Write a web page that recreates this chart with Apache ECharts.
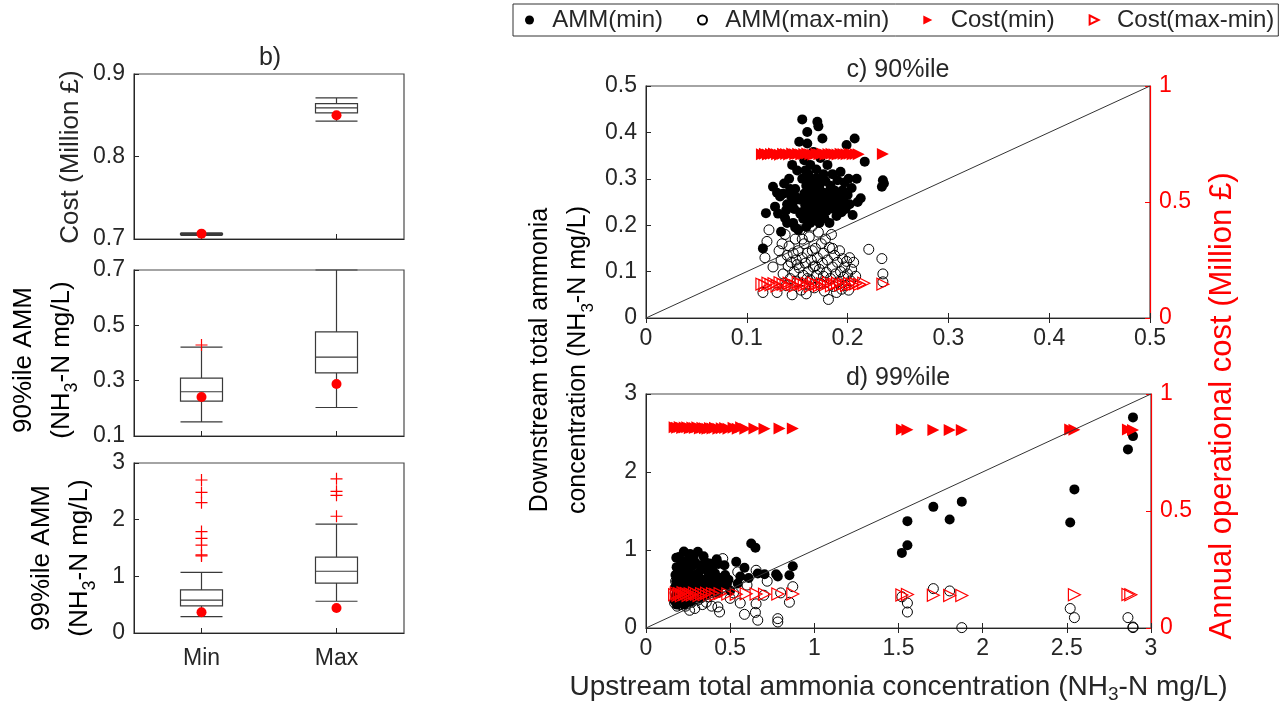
<!DOCTYPE html>
<html>
<head>
<meta charset="utf-8">
<script src="https://cdn.jsdelivr.net/npm/echarts@6.0.0/dist/echarts.min.js"></script>
<style>
html, body { margin: 0; padding: 0; background: #fff; }
#main { width: 1282px; height: 707px; }
</style>
</head>
<body>
<div id="main"></div>
<script>
// b) box plots: [min, q1, median, q3, max]
var groups = ['Min', 'Max'];
var costBox = [[0.7045, 0.7055, 0.706, 0.7065, 0.7075], [0.843, 0.853, 0.859, 0.864, 0.871]];
var costDot = [[0, 0.7065], [1, 0.850]];
var amm90Box = [[0.151, 0.226, 0.260, 0.309, 0.421], [0.203, 0.328, 0.385, 0.476, 0.700]];
var amm90Out = [[0, 0.429]];
var amm90Dot = [[0, 0.241], [1, 0.288]];
var amm99Box = [[0.29, 0.48, 0.58, 0.76, 1.07], [0.56, 0.88, 1.09, 1.34, 1.92]];
var amm99Out = [[0, 2.70], [0, 2.48], [0, 2.30], [0, 1.79], [0, 1.67], [0, 1.55], [0, 1.38], [0, 1.36],
    [1, 2.72], [1, 2.50], [1, 2.43], [1, 2.06]];
var amm99Dot = [[0, 0.365], [1, 0.44]];

// c) 90%ile : [upstream, downstream] and [upstream, cost]
var ammMinC = [
    [0.116,0.150],[0.119,0.226],[0.126,0.283],[0.130,0.270],[0.134,0.186],[0.138,0.215],[0.140,0.245],[0.142,0.300],[0.144,0.262],[0.146,0.205],
    [0.147,0.235],[0.148,0.278],[0.150,0.318],[0.151,0.190],[0.152,0.380],[0.153,0.255],[0.154,0.228],[0.155,0.428],[0.155,0.300],[0.156,0.214],
    [0.157,0.268],[0.157,0.340],[0.158,0.243],[0.159,0.196],[0.159,0.285],[0.160,0.401],[0.160,0.376],[0.160,0.226],[0.161,0.252],[0.161,0.310],
    [0.162,0.238],[0.162,0.275],[0.163,0.205],[0.163,0.330],[0.164,0.262],[0.164,0.222],[0.165,0.290],[0.165,0.245],[0.166,0.358],[0.166,0.212],
    [0.167,0.270],[0.167,0.232],[0.168,0.300],[0.168,0.250],[0.169,0.218],[0.169,0.320],[0.170,0.423],[0.170,0.262],[0.171,0.413],[0.171,0.240],
    [0.172,0.285],[0.172,0.205],[0.173,0.255],[0.173,0.345],[0.174,0.228],[0.175,0.387],[0.175,0.270],[0.176,0.310],[0.176,0.242],[0.177,0.215],
    [0.178,0.295],[0.178,0.258],[0.179,0.230],[0.180,0.330],[0.180,0.270],[0.181,0.245],[0.182,0.205],[0.183,0.285],[0.184,0.260],[0.185,0.310],
    [0.186,0.235],[0.187,0.275],[0.188,0.250],[0.189,0.220],[0.190,0.297],[0.191,0.262],[0.192,0.240],[0.193,0.315],[0.194,0.228],[0.195,0.275],
    [0.196,0.252],[0.197,0.292],[0.198,0.235],[0.199,0.373],[0.200,0.265],[0.201,0.300],[0.202,0.245],[0.204,0.280],[0.205,0.222],[0.207,0.387],
    [0.209,0.300],[0.210,0.250],[0.213,0.258],[0.217,0.337],[0.234,0.283],[0.235,0.297],[0.236,0.290],[0.131,0.225],[0.137,0.290],[0.145,0.330],
    [0.149,0.260],[0.153,0.225],[0.158,0.318],[0.162,0.295],[0.166,0.280],[0.170,0.300],[0.174,0.272],[0.179,0.252],[0.183,0.238],[0.188,0.265],
    [0.128,0.240],[0.133,0.262],[0.139,0.232],[0.143,0.278],[0.146,0.250],[0.140,0.205],[0.136,0.268],[0.148,0.195]
];
var ammRangeC = [
    [0.116,0.055],[0.118,0.130],[0.120,0.165],[0.122,0.190],[0.126,0.110],[0.130,0.055],[0.132,0.145],[0.134,0.125],[0.135,0.160],[0.136,0.095],
    [0.138,0.180],[0.139,0.070],[0.140,0.135],[0.141,0.112],[0.142,0.155],[0.143,0.085],[0.144,0.120],[0.145,0.050],[0.146,0.140],[0.147,0.100],
    [0.148,0.170],[0.149,0.125],[0.150,0.078],[0.151,0.145],[0.152,0.108],[0.153,0.190],[0.154,0.060],[0.155,0.130],[0.156,0.092],[0.157,0.160],
    [0.158,0.118],[0.159,0.052],[0.160,0.140],[0.161,0.100],[0.162,0.175],[0.163,0.082],[0.164,0.125],[0.165,0.198],[0.166,0.110],[0.167,0.065],
    [0.168,0.150],[0.169,0.092],[0.170,0.130],[0.171,0.185],[0.172,0.105],[0.173,0.075],[0.174,0.160],[0.175,0.118],[0.176,0.140],[0.177,0.058],
    [0.178,0.170],[0.179,0.098],[0.180,0.125],[0.181,0.040],[0.182,0.152],[0.183,0.085],[0.184,0.180],[0.185,0.110],[0.186,0.068],[0.187,0.135],
    [0.188,0.095],[0.189,0.055],[0.190,0.120],[0.191,0.078],[0.192,0.145],[0.193,0.100],[0.194,0.062],[0.195,0.128],[0.196,0.088],[0.197,0.110],
    [0.198,0.070],[0.199,0.122],[0.200,0.095],[0.201,0.060],[0.202,0.130],[0.203,0.080],[0.204,0.105],[0.206,0.120],[0.208,0.090],[0.221,0.148],
    [0.234,0.128],[0.235,0.095],[0.235,0.078],[0.150,0.115],[0.160,0.085],[0.168,0.112],[0.176,0.090],[0.185,0.150],[0.165,0.145],[0.155,0.170]
];
var costMinC = [
    [0.115,0.706],[0.118,0.708],[0.121,0.705],[0.124,0.707],[0.127,0.709],[0.130,0.706],[0.133,0.704],[0.136,0.708],[0.139,0.707],[0.142,0.705],
    [0.145,0.709],[0.148,0.706],[0.151,0.708],[0.154,0.705],[0.157,0.707],[0.160,0.709],[0.163,0.706],[0.166,0.704],[0.169,0.708],[0.172,0.706],
    [0.175,0.709],[0.178,0.705],[0.181,0.707],[0.184,0.708],[0.187,0.706],[0.190,0.705],[0.193,0.708],[0.196,0.707],[0.199,0.706],[0.202,0.708],
    [0.205,0.706],[0.208,0.707],[0.211,0.706],[0.235,0.707]
];
var costRangeC = [
    [0.115,0.146],[0.118,0.140],[0.121,0.150],[0.124,0.143],[0.127,0.148],[0.130,0.138],[0.133,0.152],[0.136,0.145],[0.139,0.141],[0.142,0.150],
    [0.145,0.144],[0.148,0.139],[0.151,0.153],[0.154,0.146],[0.157,0.142],[0.160,0.149],[0.163,0.137],[0.166,0.151],[0.169,0.145],[0.172,0.140],
    [0.175,0.148],[0.178,0.143],[0.181,0.152],[0.184,0.139],[0.187,0.146],[0.190,0.150],[0.193,0.142],[0.196,0.147],[0.199,0.140],[0.202,0.149],
    [0.205,0.144],[0.208,0.148],[0.212,0.145],[0.216,0.150],[0.235,0.146]
];

// d) 99%ile
var ammMinD = [
    [0.170,0.350],[0.172,0.520],[0.175,0.680],[0.178,0.420],[0.180,0.600],[0.182,0.780],[0.184,0.300],[0.186,0.470],[0.188,0.650],[0.190,0.550],
    [0.192,0.380],[0.194,0.720],[0.196,0.910],[0.198,0.450],[0.200,0.330],[0.203,0.620],[0.205,0.500],[0.208,0.820],[0.210,0.400],[0.213,0.580],
    [0.215,0.700],[0.218,0.350],[0.220,0.780],[0.223,0.480],[0.226,0.600],[0.229,0.300],[0.232,0.860],[0.235,0.540],[0.238,0.420],[0.241,0.660],
    [0.245,0.380],[0.248,0.740],[0.252,0.500],[0.256,0.880],[0.260,0.620],[0.264,0.450],[0.268,0.340],[0.272,0.560],[0.276,0.800],[0.280,0.480],
    [0.285,0.680],[0.290,0.400],[0.295,0.600],[0.300,0.520],[0.308,0.976],[0.312,0.440],[0.318,0.640],[0.325,0.380],[0.332,0.560],[0.340,0.480],
    [0.350,0.620],[0.358,0.420],[0.366,0.540],[0.378,0.826],[0.390,0.470],[0.400,0.600],[0.415,0.520],[0.430,0.450],[0.445,0.640],[0.466,0.805],
    [0.480,0.560],[0.500,0.480],[0.536,0.848],[0.545,0.570],[0.560,0.660],[0.585,0.772],[0.610,0.640],[0.625,1.083],[0.650,1.030],[0.664,0.698],
    [0.704,0.690],[0.773,0.690],[0.783,0.660],[0.852,0.676],[0.872,0.792],[0.180,0.900],[0.200,0.750],[0.220,0.650],[0.240,0.850],[0.190,0.620],
    [0.310,0.700],[0.330,0.780],[0.350,0.850],[0.370,0.660],[0.390,0.750],[0.410,0.700],[0.430,0.820],[0.450,0.550],[0.470,0.680],[0.490,0.620],
    [0.262,0.950],[0.282,0.900],[0.342,0.920],[0.420,0.880],[0.225,0.980],[0.300,0.820],[0.360,0.740],[0.400,0.800],[0.255,0.720],[0.325,0.600],
    [1.520,0.963],[1.553,1.060],[1.553,1.370],[1.707,1.553],[1.804,1.390],[1.876,1.620],[2.520,1.353],[2.545,1.777],[2.863,2.290],[2.893,2.460],[2.893,2.700]
];
var ammRangeD = [
    [0.170,0.320],[0.173,0.450],[0.176,0.600],[0.179,0.380],[0.182,0.520],[0.185,0.280],[0.188,0.700],[0.191,0.420],[0.194,0.350],[0.197,0.560],
    [0.200,0.480],[0.204,0.300],[0.208,0.640],[0.212,0.400],[0.216,0.760],[0.220,0.340],[0.225,0.520],[0.230,0.440],[0.235,0.280],[0.240,0.600],
    [0.246,0.380],[0.252,0.480],[0.259,0.227],[0.265,0.560],[0.272,0.330],[0.280,0.420],[0.290,0.250],[0.300,0.520],[0.310,0.360],[0.322,0.620],
    [0.335,0.300],[0.348,0.460],[0.358,0.700],[0.358,0.330],[0.372,0.400],[0.390,0.280],[0.410,0.520],[0.427,0.270],[0.437,0.205],[0.456,0.890],
    [0.470,0.600],[0.500,0.380],[0.520,0.450],[0.545,0.720],[0.560,0.320],[0.585,0.175],[0.600,0.550],[0.650,0.200],[0.654,0.740],[0.654,0.310],
    [0.664,0.100],[0.700,0.420],[0.720,0.600],[0.783,0.120],[0.783,0.077],[0.800,0.450],[0.852,0.330],[0.872,0.530],[0.280,0.750],[0.320,0.820],
    [1.520,0.400],[1.553,0.320],[1.553,0.205],[1.707,0.505],[1.804,0.475],[1.876,0.005],[2.520,0.250],[2.545,0.133],[2.863,0.133],[2.893,0.013],[2.893,0.005]
];
var costMinD = [
    [0.170,0.858],[0.185,0.856],[0.200,0.859],[0.215,0.855],[0.230,0.857],[0.245,0.858],[0.260,0.854],[0.275,0.857],[0.290,0.855],[0.305,0.858],
    [0.320,0.853],[0.335,0.856],[0.350,0.854],[0.365,0.852],[0.380,0.855],[0.395,0.853],[0.410,0.856],[0.430,0.851],[0.450,0.854],[0.470,0.855],
    [0.490,0.852],[0.520,0.856],[0.545,0.852],[0.565,0.858],[0.590,0.851],[0.644,0.853],[0.704,0.852],[0.793,0.853],[0.872,0.853],
    [1.520,0.848],[1.553,0.847],[1.707,0.846],[1.804,0.846],[1.876,0.846],[2.520,0.848],[2.545,0.847],[2.863,0.848],[2.893,0.846]
];
var costRangeD = [
    [0.170,0.142],[0.180,0.150],[0.190,0.140],[0.200,0.147],[0.210,0.138],[0.220,0.151],[0.230,0.143],[0.240,0.148],[0.250,0.139],[0.262,0.146],
    [0.275,0.141],[0.288,0.150],[0.300,0.144],[0.315,0.139],[0.330,0.147],[0.345,0.142],[0.360,0.149],[0.378,0.140],[0.395,0.146],[0.415,0.143],
    [0.440,0.147],[0.486,0.145],[0.536,0.144],[0.595,0.146],[0.654,0.145],[0.704,0.144],[0.783,0.145],[0.872,0.145],
    [1.520,0.141],[1.553,0.143],[1.707,0.140],[1.804,0.139],[1.876,0.139],[2.545,0.142],[2.863,0.143],[2.880,0.142]
];

// 1:1 reference lines
var diagC = [[0, 0], [0.5, 0.5]];
var diagD = [[0, 0], [3, 3]];

var FONT = '"Liberation Sans", Arial, Helvetica, sans-serif';
var INK = '#262626';
var RED = '#ff0000';
var plusPath = 'path://M0,5L10,5M5,0L5,10';
var rightTri = 'path://M0,0L10,5L0,10Z';

function richSub(size, color, lh) {
    var sub = Math.round(size * 0.68);
    return {
        t: {fontSize: size, fontFamily: FONT, color: color, lineHeight: lh},
        s: {fontSize: sub, fontFamily: FONT, color: color, lineHeight: sub, verticalAlign: 'bottom'}
    };
}

function axis(grid, extra) {
    var a = {
        gridIndex: grid,
        axisLine: {show: true, onZero: false, lineStyle: {color: INK, width: 1}},
        axisTick: {show: true, inside: true, length: 5, lineStyle: {color: INK}},
        axisLabel: {color: INK, fontSize: 23, fontFamily: FONT, margin: 9},
        splitLine: {show: false}
    };
    for (var k in extra) a[k] = extra[k];
    return a;
}

function redAxis(a) {
    a.axisLine = {show: true, onZero: false, lineStyle: {color: RED, width: 1.2}};
    a.axisTick = {show: true, inside: true, length: 5, lineStyle: {color: RED}};
    a.axisLabel = {color: RED, fontSize: 23, fontFamily: FONT, margin: 9};
    return a;
}

var gridBase = {show: true, borderColor: '#4a4a4a', borderWidth: 1.2, backgroundColor: '#fff', outerBoundsMode: 'none'};
function grid(l, t, w, h) {
    var g = {left: l, top: t, width: w, height: h};
    for (var k in gridBase) g[k] = gridBase[k];
    return g;
}

var chart = echarts.init(document.getElementById('main'));

var boxStyle = {color: '#fff', borderColor: '#3a3a3a', borderWidth: 1.2};
var solidBlack = {color: '#000', opacity: 1};
var solidRed = {color: RED, opacity: 1};
var openBlack = {color: 'rgba(0,0,0,0)', borderColor: '#000', borderWidth: 1, opacity: 1};
var openRed = {color: 'rgba(255,0,0,0)', borderColor: RED, borderWidth: 1.2, opacity: 1};

var option = {
    backgroundColor: '#fff',
    animation: false,
    textStyle: {fontFamily: FONT},
    legend: {
        data: [
            {name: 'AMM(min)', icon: 'circle'},
            {name: 'AMM(max-min)', icon: 'circle'},
            {name: 'Cost(min)', icon: rightTri},
            {name: 'Cost(max-min)', icon: rightTri}
        ],
        formatter: '  {name}',
        left: 513, top: 4, width: 780,
        orient: 'horizontal',
        borderColor: '#333', borderWidth: 1,
        padding: [4, 4, 4, 12],
        itemGap: 34, itemWidth: 9, itemHeight: 9,
        selectedMode: false,
        textStyle: {fontSize: 24, fontFamily: FONT, color: INK}
    },
    grid: [
        grid(134, 74, 270, 165),
        grid(134, 270, 270, 166),
        grid(134, 463, 270, 170),
        grid(646, 86, 504, 232),
        grid(646, 394, 505, 234)
    ],
    xAxis: [
        axis(0, {type: 'category', data: groups, axisLabel: {show: false}, axisTick: {show: true, inside: true, alignWithLabel: true, length: 5, lineStyle: {color: INK}}}),
        axis(1, {type: 'category', data: groups, axisLabel: {show: false}, axisTick: {show: true, inside: true, alignWithLabel: true, length: 5, lineStyle: {color: INK}}}),
        axis(2, {type: 'category', data: groups, axisLabel: {color: INK, fontSize: 23, fontFamily: FONT, margin: 14}, axisTick: {show: true, inside: true, alignWithLabel: true, length: 5, lineStyle: {color: INK}}}),
        axis(3, {type: 'value', min: 0, max: 0.5, interval: 0.1}),
        axis(4, {type: 'value', min: 0, max: 3, interval: 0.5,
            name: '{t|Upstream total ammonia concentration (NH}{s|3}{t|-N mg/L)}',
            nameLocation: 'middle', nameGap: 42,
            nameTextStyle: {rich: richSub(28, INK, 34)}}),
        axis(3, {type: 'value', position: 'top', min: 0, max: 0.5, interval: 0.1, axisLabel: {show: false}, axisLine: {show: false}}),
        axis(4, {type: 'value', position: 'top', min: 0, max: 3, interval: 0.5, axisLabel: {show: false}, axisLine: {show: false}})
    ],
    yAxis: [
        axis(0, {type: 'value', min: 0.7, max: 0.9, interval: 0.1}),
        axis(1, {type: 'value', min: 0.1, max: 0.7, interval: 0.2}),
        axis(2, {type: 'value', min: 0, max: 3, interval: 1}),
        axis(3, {type: 'value', min: 0, max: 0.5, interval: 0.1}),
        redAxis(axis(3, {type: 'value', position: 'right', min: 0, max: 1, interval: 0.5})),
        axis(4, {type: 'value', min: 0, max: 3, interval: 1}),
        redAxis(axis(4, {type: 'value', position: 'right', min: 0, max: 1, interval: 0.5}))
    ],
    graphic: [
        {type: 'text', x: 270, y: 58, style: {text: 'b)', fontSize: 25, fontFamily: FONT, fill: INK, align: 'center', verticalAlign: 'middle'}},
        {type: 'text', x: 898, y: 70, style: {text: 'c) 90%ile', fontSize: 25, fontFamily: FONT, fill: INK, align: 'center', verticalAlign: 'middle'}},
        {type: 'text', x: 898, y: 378, style: {text: 'd) 99%ile', fontSize: 25, fontFamily: FONT, fill: INK, align: 'center', verticalAlign: 'middle'}},
        {type: 'text', x: 71, y: 157, rotation: Math.PI / 2,
            style: {text: 'Cost (Million £)', fontSize: 26, fontFamily: FONT, fill: INK, align: 'center', verticalAlign: 'middle'}},
        {type: 'text', x: 43, y: 360, rotation: Math.PI / 2,
            style: {text: '{t|90%ile AMM}\n{t|(NH}{s|3}{t|-N mg/L)}', rich: richSub(26, INK, 38), align: 'center', verticalAlign: 'middle'}},
        {type: 'text', x: 61, y: 558, rotation: Math.PI / 2,
            style: {text: '{t|99%ile AMM}\n{t|(NH}{s|3}{t|-N mg/L)}', rich: richSub(26, INK, 38), align: 'center', verticalAlign: 'middle'}},
        {type: 'text', x: 559, y: 360, rotation: Math.PI / 2,
            style: {text: '{t|Downstream total ammonia}\n{t|concentration (NH}{s|3}{t|-N mg/L)}', rich: richSub(25, INK, 38), align: 'center', verticalAlign: 'middle'}},
        {type: 'text', x: 1222, y: 406, rotation: Math.PI / 2,
            style: {text: 'Annual operational cost (Million £)', fontSize: 31, fontFamily: FONT, fill: RED, align: 'center', verticalAlign: 'middle'}}
    ],
    series: [
        // b) box plots
        {type: 'boxplot', xAxisIndex: 0, yAxisIndex: 0, data: costBox, boxWidth: [42, 42], itemStyle: boxStyle, silent: true},
        {type: 'scatter', xAxisIndex: 0, yAxisIndex: 0, data: costDot, symbol: 'circle', symbolSize: 10, itemStyle: solidRed, silent: true},
        {type: 'boxplot', xAxisIndex: 1, yAxisIndex: 1, data: amm90Box, boxWidth: [42, 42], itemStyle: boxStyle, silent: true},
        {type: 'scatter', xAxisIndex: 1, yAxisIndex: 1, data: amm90Out, symbol: plusPath, symbolSize: 12, itemStyle: openRed, silent: true},
        {type: 'scatter', xAxisIndex: 1, yAxisIndex: 1, data: amm90Dot, symbol: 'circle', symbolSize: 10, itemStyle: solidRed, silent: true},
        {type: 'boxplot', xAxisIndex: 2, yAxisIndex: 2, data: amm99Box, boxWidth: [42, 42], itemStyle: boxStyle, silent: true},
        {type: 'scatter', xAxisIndex: 2, yAxisIndex: 2, data: amm99Out, symbol: plusPath, symbolSize: 12, itemStyle: openRed, silent: true},
        {type: 'scatter', xAxisIndex: 2, yAxisIndex: 2, data: amm99Dot, symbol: 'circle', symbolSize: 10, itemStyle: solidRed, silent: true},

        // c) 90%ile
        {type: 'line', xAxisIndex: 3, yAxisIndex: 3, data: diagC, symbol: 'none', lineStyle: {color: '#333', width: 1}, silent: true},
        {name: 'AMM(min)', type: 'scatter', xAxisIndex: 3, yAxisIndex: 3, data: ammMinC, symbol: 'circle', symbolSize: 10, itemStyle: solidBlack, silent: true},
        {name: 'AMM(max-min)', type: 'scatter', xAxisIndex: 3, yAxisIndex: 3, data: ammRangeC, symbol: 'circle', symbolSize: 10, itemStyle: openBlack, silent: true},
        {name: 'Cost(min)', type: 'scatter', xAxisIndex: 3, yAxisIndex: 4, data: costMinC, symbol: 'triangle', symbolRotate: -90, symbolSize: 12, itemStyle: solidRed, silent: true},
        {name: 'Cost(max-min)', type: 'scatter', xAxisIndex: 3, yAxisIndex: 4, data: costRangeC, symbol: 'triangle', symbolRotate: -90, symbolSize: 12, itemStyle: openRed, silent: true},

        // d) 99%ile
        {type: 'line', xAxisIndex: 4, yAxisIndex: 5, data: diagD, symbol: 'none', lineStyle: {color: '#333', width: 1}, silent: true},
        {name: 'AMM(min)', type: 'scatter', xAxisIndex: 4, yAxisIndex: 5, data: ammMinD, symbol: 'circle', symbolSize: 10, itemStyle: solidBlack, silent: true},
        {name: 'AMM(max-min)', type: 'scatter', xAxisIndex: 4, yAxisIndex: 5, data: ammRangeD, symbol: 'circle', symbolSize: 10, itemStyle: openBlack, silent: true},
        {name: 'Cost(min)', type: 'scatter', xAxisIndex: 4, yAxisIndex: 6, data: costMinD, symbol: 'triangle', symbolRotate: -90, symbolSize: 12, itemStyle: solidRed, silent: true},
        {name: 'Cost(max-min)', type: 'scatter', xAxisIndex: 4, yAxisIndex: 6, data: costRangeD, symbol: 'triangle', symbolRotate: -90, symbolSize: 12, itemStyle: openRed, silent: true}
    ]
};

chart.setOption(option);
</script>
</body>
</html>
